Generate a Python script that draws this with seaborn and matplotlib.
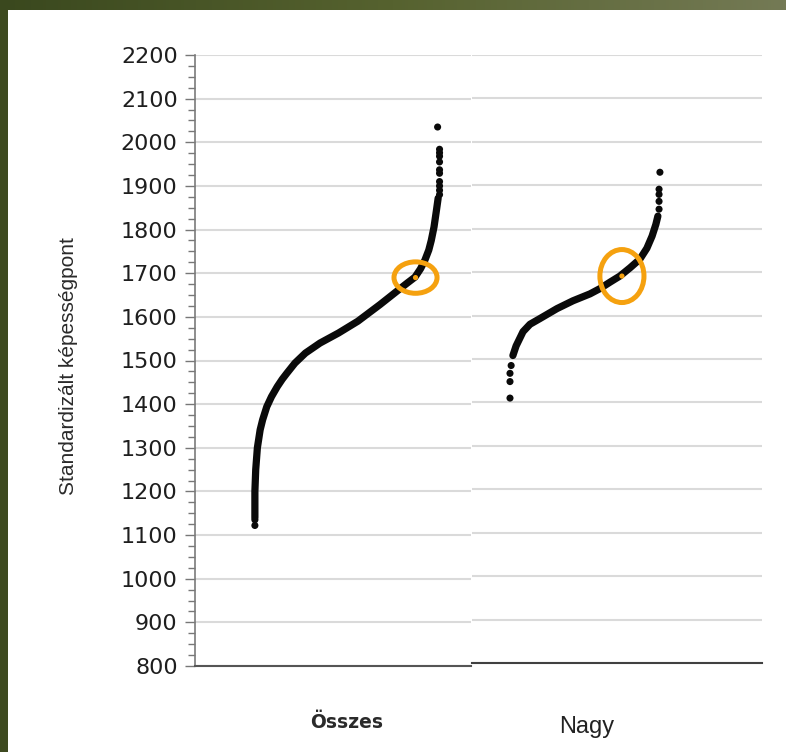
import matplotlib
matplotlib.use("Agg")
import matplotlib.pyplot as plt
from matplotlib.patches import Ellipse, Rectangle
from matplotlib.ticker import MultipleLocator
from matplotlib.colors import LinearSegmentedColormap
import numpy as np
import pandas as pd
import seaborn as sns

# ---------------- data ----------------
# Panel "Összes": sorted standardised scores (x = rank position, 0-100 of panel width)
osszes_line_x = [21.7, 21.7, 22.0, 22.6, 23.6, 24.5, 26.0, 27.7, 29.8, 31.6, 33.3,
                 36.2, 40.0, 45.3, 52.0, 59.0, 67.0, 73.4, 76.6, 79.7, 81.7,
                 83.3, 84.7, 85.6, 86.6, 87.5, 88.1]
osszes_line_y = [1140, 1200, 1250, 1300, 1341, 1364, 1394, 1417, 1440, 1457, 1471,
                 1494, 1517, 1540, 1563, 1590, 1628, 1660, 1676, 1691, 1710,
                 1730, 1753, 1775, 1806, 1845, 1872]
osszes_dot_x = [21.7, 21.7, 88.6, 88.6, 88.6, 88.6, 88.6, 88.6, 88.6, 88.6, 88.6, 88.6, 87.9]
osszes_dot_y = [1122, 1135, 1880, 1890, 1900, 1910, 1929, 1937, 1955, 1968, 1976, 1984, 2035]

# Panel "Nagy"
nagy_line_x = [14.1, 15.2, 17.6, 20.0, 23.4, 29.3, 34.8, 40.7, 44.1, 47.6, 51.0,
               54.5, 57.9, 60.3, 62.1, 63.4, 64.1]
nagy_line_y = [1508, 1530, 1563, 1580, 1593, 1616, 1634, 1650, 1662, 1677, 1691,
               1710, 1730, 1755, 1783, 1810, 1829]
nagy_dot_x = [13.1, 13.1, 13.1, 13.5, 64.5, 64.5, 64.5, 64.5, 64.8]
nagy_dot_y = [1410, 1448, 1467, 1485, 1845, 1863, 1879, 1891, 1930]

# highlighted points (orange)
highlight_x = [79.9, 51.7]
highlight_y = [1690, 1691]

panel_labels = ["Összes", "Nagy"]
y_ticks = list(range(800, 2201, 100))
y_label = "Standardizált képességpont"

# ---------------- figure ----------------
sns.set_style("white")
plt.rcParams["font.family"] = ["DejaVu Sans"]

W, H = 786, 752
fig = plt.figure(figsize=(W / 100, H / 100), dpi=100)
fig.patch.set_facecolor("white")

# slide background pieces
bg_top = fig.add_axes([0, 1 - 10 / H, 1, 10 / H])
grad = np.linspace(0, 1, 256)[None, :]
olive = LinearSegmentedColormap.from_list("olive", ["#3a481e", "#56622f", "#747a55"])
bg_top.imshow(grad, aspect="auto", cmap=olive, extent=[0, 1, 0, 1])
bg_top.set_axis_off()
fig.patches.append(Rectangle((0, 0), 8 / W, 1, transform=fig.transFigure,
                             facecolor="#3e4a20", edgecolor="none", zorder=-1))

ax1 = fig.add_axes([195 / W, 86 / H, 276 / W, 611 / H])
ax2 = fig.add_axes([472 / W, 89 / H, 290 / W, 608 / H])

orange = "#F5A10F"
black = "#0a0a0a"

def draw_panel(ax, lx, ly, dx, dy, hx, hy, ell_w, ell_h):
    ax.set_ylim(800, 2200)
    ax.set_xlim(0, 100)
    ax.set_yticks(y_ticks)
    ax.yaxis.grid(True, color="#dadada", linewidth=1.5)
    ax.xaxis.grid(False)
    ax.set_axisbelow(True)
    df_line = pd.DataFrame({"x": lx, "y": ly})
    sns.lineplot(data=df_line, x="x", y="y", ax=ax, color=black, linewidth=5.2,
                 estimator=None, sort=False, solid_capstyle="round",
                 solid_joinstyle="round", zorder=3)
    df_dot = pd.DataFrame({"x": dx, "y": dy})
    sns.scatterplot(data=df_dot, x="x", y="y", ax=ax, color=black, s=26,
                    edgecolor="none", zorder=3)
    sns.scatterplot(x=[hx], y=[hy], ax=ax, color=orange, s=14, edgecolor="none", zorder=5)
    ax.add_patch(Ellipse((hx, hy), ell_w, ell_h, fill=False, edgecolor=orange,
                         linewidth=3.6, zorder=4))
    ax.set_xlabel("")
    ax.set_ylabel("")
    ax.set_xticks([])

draw_panel(ax1, osszes_line_x, osszes_line_y, osszes_dot_x, osszes_dot_y,
           highlight_x[0], highlight_y[0], 15.6, 72)
draw_panel(ax2, nagy_line_x, nagy_line_y, nagy_dot_x, nagy_dot_y,
           highlight_x[1], highlight_y[1], 15.2, 122)

# axis styling
for sp in ["top", "right"]:
    ax1.spines[sp].set_visible(False)
ax1.spines["left"].set_color("#7a7a7a")
ax1.spines["left"].set_linewidth(1.2)
ax1.spines["bottom"].set_color("#555555")
ax1.spines["bottom"].set_linewidth(1.5)
ax1.yaxis.set_minor_locator(MultipleLocator(25))
ax1.tick_params(axis="y", which="major", direction="out", length=7, width=1.0,
                color="#777777", pad=5.5, labelsize=16, labelcolor="#1e1e1e", left=True)
ax1.tick_params(axis="y", which="minor", direction="out", length=5, width=1.0,
                color="#777777", left=True)

for sp in ["top", "right", "left"]:
    ax2.spines[sp].set_visible(False)
ax2.spines["bottom"].set_color("#404040")
ax2.spines["bottom"].set_linewidth(1.5)
ax2.tick_params(axis="y", which="both", length=0, labelleft=False)

# texts
fig.text(347 / W, 1 - 722 / H, panel_labels[0], ha="center", va="center",
         fontsize=13.5, fontweight="bold", color="#2a2a2a")
fig.text(587 / W, 1 - 727 / H, panel_labels[1], ha="center", va="center",
         fontsize=17, color="#222222", family=["Liberation Sans", "DejaVu Sans"])
fig.text(68 / W, 1 - 366 / H, y_label, ha="center", va="center", rotation=90,
         fontsize=15, color="#2a2a2a",
         family=["Liberation Sans Narrow", "Liberation Sans", "DejaVu Sans"])

fig.savefig("out.png", dpi=100, facecolor=fig.get_facecolor())
